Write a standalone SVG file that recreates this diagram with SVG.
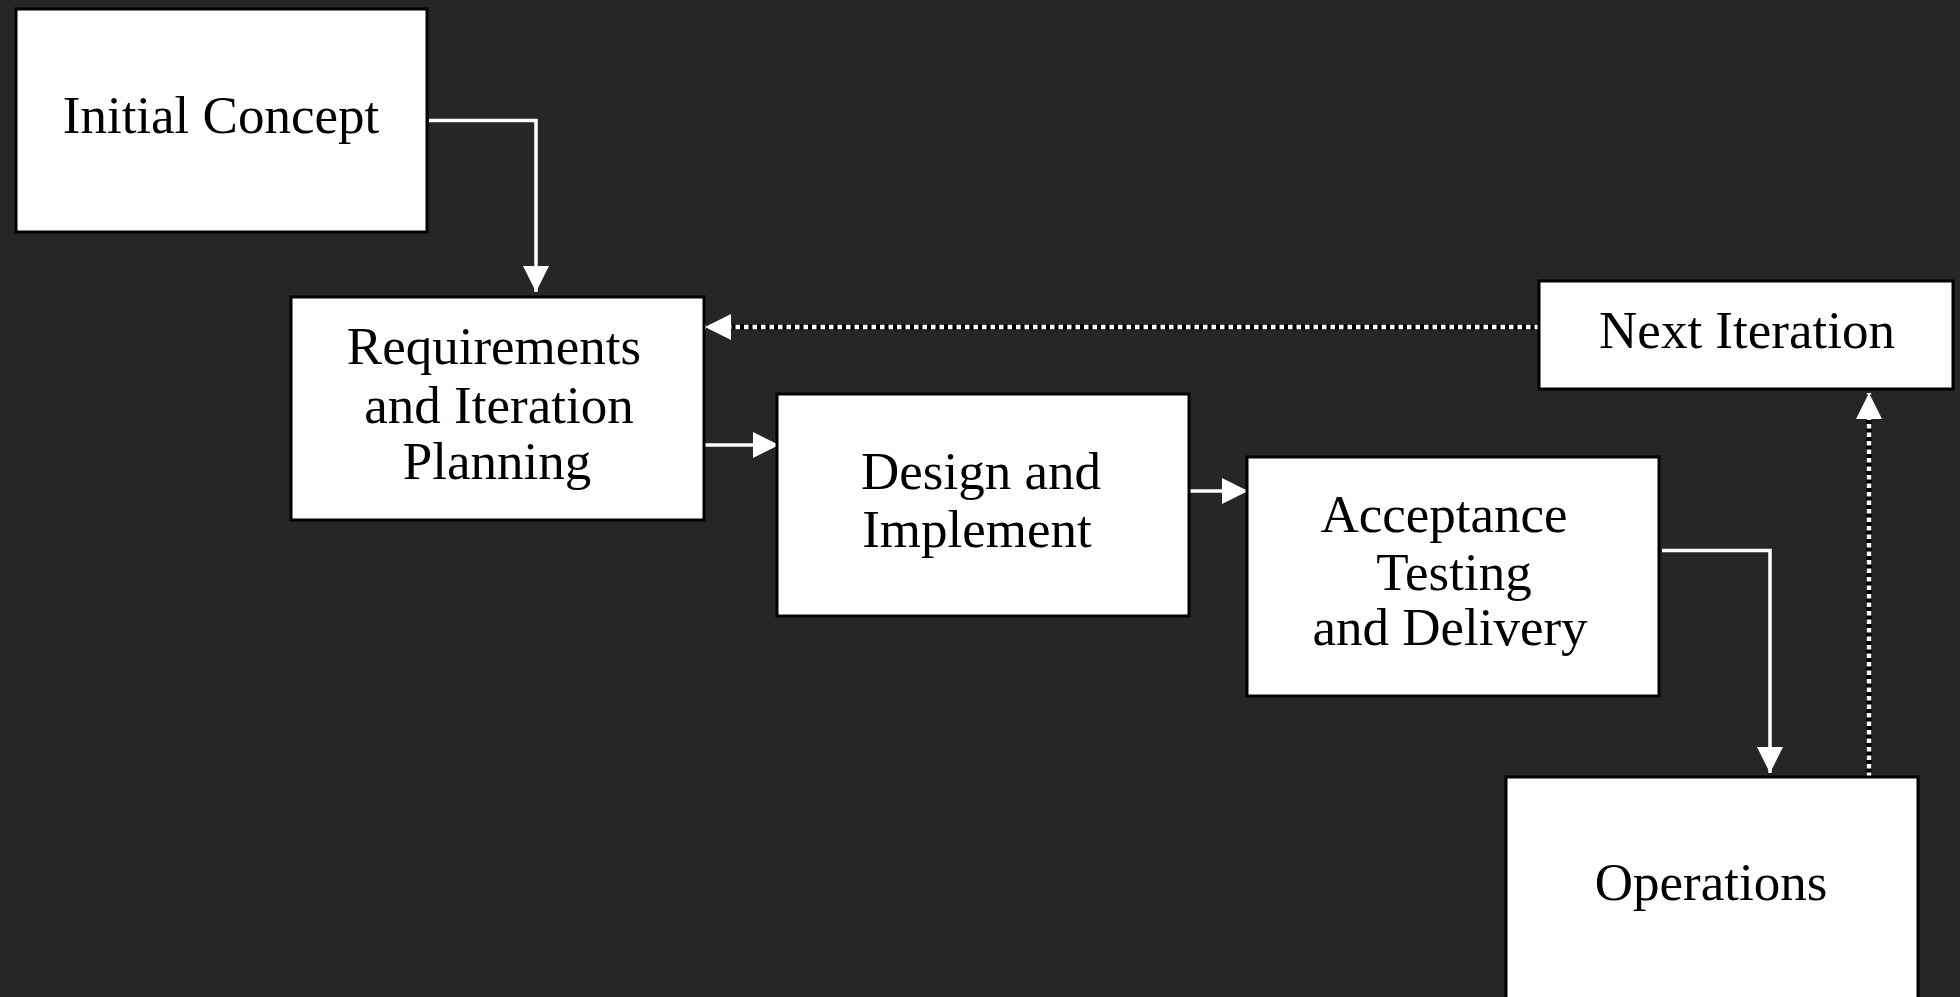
<svg xmlns="http://www.w3.org/2000/svg" width="1960" height="997" viewBox="0 0 1960 997">
<style>
.box{fill:#ffffff;stroke:#000000;stroke-width:3}
.lbl{font-family:"Liberation Serif","Times New Roman",serif;font-size:53px;fill:#000000;text-anchor:middle}
.c{fill:none;stroke:#ffffff;stroke-width:3.5}
.du{fill:none;stroke:#000000;stroke-width:5.5}
.d{fill:none;stroke:#ffffff;stroke-width:4.5;stroke-dasharray:4.5 4}
</style>
<defs>
<marker id="ah" markerUnits="userSpaceOnUse" markerWidth="27" markerHeight="26" refX="26" refY="13" orient="auto" viewBox="0 0 27 26">
<path d="M0,0 L26,13 L0,26 z" fill="#ffffff"/>
</marker>
</defs>
<rect x="0" y="0" width="1960" height="997" fill="#252628"/>
<g id="connectors">
<path class="c" d="M429,120.5 H536 V292" marker-end="url(#ah)"/>
<path class="c" d="M705,445 H779" marker-end="url(#ah)"/>
<path class="c" d="M1189,491 H1248" marker-end="url(#ah)"/>
<path class="c" d="M1662,550.5 H1770 V773" marker-end="url(#ah)"/>
<path class="du" d="M1869,777 V410"/>
<path class="d" d="M1869,777 V393" marker-end="url(#ah)"/>
<path class="du" d="M1539,327 H725"/>
<path class="d" d="M1539,327 H705" marker-end="url(#ah)"/>
</g>
<g id="initial-concept">
<rect class="box" x="16" y="9" width="411" height="223"/>
<text class="lbl" x="221" y="133">Initial Concept</text>
</g>
<g id="requirements">
<rect class="box" x="291" y="297" width="413" height="223"/>
<text class="lbl" x="494" y="364">Requirements</text>
<text class="lbl" x="499" y="423">and Iteration</text>
<text class="lbl" x="497" y="479">Planning</text>
</g>
<g id="design">
<rect class="box" x="777" y="394" width="412" height="222"/>
<text class="lbl" x="981" y="489">Design and</text>
<text class="lbl" x="977" y="547">Implement</text>
</g>
<g id="acceptance">
<rect class="box" x="1247" y="457" width="412" height="239"/>
<text class="lbl" x="1444" y="532">Acceptance</text>
<text class="lbl" x="1454" y="590">Testing</text>
<text class="lbl" x="1450" y="645">and Delivery</text>
</g>
<g id="next-iteration">
<rect class="box" x="1539" y="281" width="414" height="108"/>
<text class="lbl" x="1747" y="348">Next Iteration</text>
</g>
<g id="operations">
<rect class="box" x="1506" y="777" width="412" height="240"/>
<text class="lbl" x="1711" y="900">Operations</text>
</g>
</svg>
